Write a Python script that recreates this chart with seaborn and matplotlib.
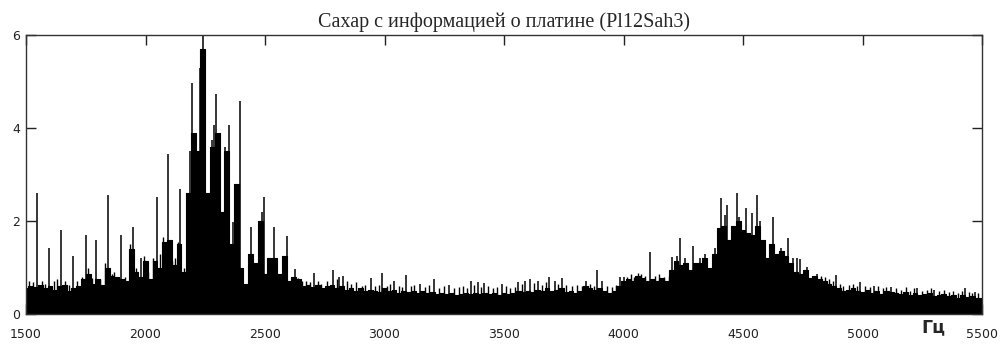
import numpy as np
import pandas as pd
import seaborn as sns
import matplotlib
matplotlib.use("Agg")
import matplotlib.pyplot as plt

# огибающая спектра, шаг 20 Гц (1500 ... 5500)
base_amp = [
    0.55, 0.6, 0.58, 0.62, 0.55, 0.6, 0.52, 0.6, 0.62, 0.5,
    0.55, 0.6, 0.75, 0.85, 0.65, 0.75, 0.62, 1.0, 0.82, 0.8,
    0.75, 0.7, 1.4, 0.9, 0.8, 1.15, 0.75, 1.15, 1.0, 1.55,
    1.6, 1.05, 1.5, 0.9, 2.6, 3.9, 3.5, 5.7, 2.6, 3.6,
    3.9, 2.2, 3.5, 1.5, 2.8, 1.0, 0.65, 1.3, 1.1, 2.0,
    0.85, 1.2, 1.2, 0.85, 1.25, 0.7, 0.8, 0.75, 0.6, 0.62,
    0.58, 0.62, 0.55, 0.6, 0.62, 0.55, 0.6, 0.52, 0.55, 0.5,
    0.55, 0.5, 0.52, 0.5, 0.48, 0.55, 0.5, 0.52, 0.45, 0.5,
    0.48, 0.5, 0.45, 0.5, 0.45, 0.48, 0.42, 0.45, 0.42, 0.45,
    0.4, 0.42, 0.45, 0.42, 0.45, 0.43, 0.45, 0.42, 0.45, 0.4,
    0.45, 0.42, 0.45, 0.5, 0.48, 0.5, 0.48, 0.52, 0.5, 0.55,
    0.5, 0.52, 0.55, 0.48, 0.5, 0.45, 0.5, 0.6, 0.55, 0.52,
    0.55, 0.5, 0.45, 0.5, 0.6, 0.72, 0.75, 0.72, 0.82, 0.78,
    0.7, 0.75, 0.72, 0.78, 0.7, 0.95, 1.15, 1.05, 1.1, 0.95,
    1.1, 1.1, 1.2, 1.0, 1.3, 1.85, 1.9, 1.6, 1.9, 2.0,
    1.8, 1.75, 1.7, 1.9, 1.6, 1.2, 1.5, 1.3, 1.35, 1.25,
    1.1, 0.9, 0.85, 0.95, 0.78, 0.82, 0.75, 0.72, 0.65, 0.6,
    0.55, 0.5, 0.52, 0.55, 0.5, 0.48, 0.52, 0.45, 0.5, 0.42,
    0.5, 0.48, 0.45, 0.42, 0.48, 0.4, 0.45, 0.4, 0.42, 0.45,
    0.38, 0.4, 0.42, 0.38, 0.4, 0.35, 0.4, 0.36, 0.38, 0.35,
    0.35,
]
base_freq = np.arange(1500, 5501, 20)

# отдельные узкие пики
peak_freq = [
    1547, 1597, 1648, 1698, 1750, 1794, 1844, 1896, 1948, 1980,
    2048, 2093, 2144, 2186, 2196, 2228, 2236, 2242, 2277, 2286,
    2297, 2332, 2349, 2367, 2381, 2394, 2441, 2486, 2494, 2539,
    2594, 2625, 2705, 2786, 2810, 2828, 2942, 2990, 3040, 3092,
    3150, 3207, 3270, 3361, 3392, 3418, 3490, 3560, 3588, 3609,
    3641, 3690, 3712, 3743, 3843, 3888, 3912, 3986, 4000, 4111,
    4205, 4222, 4236, 4256, 4289, 4320, 4340, 4383, 4410, 4424,
    4434, 4455, 4473, 4485, 4512, 4537, 4557, 4570, 4590, 4627,
    4660, 4690, 4710, 4725, 4739, 4767, 4809, 4888, 4990, 5050,
    5120, 5230, 5300, 5429, 5470,
]
peak_amp = [
    2.6, 1.43, 1.8, 1.25, 1.7, 1.6, 2.55, 1.7, 1.88, 1.2,
    2.52, 3.45, 2.68, 3.5, 4.97, 5.3, 5.6, 5.98, 3.75, 4.07,
    4.74, 3.6, 4.07, 1.98, 2.8, 4.57, 1.88, 2.2, 2.52, 1.88,
    1.67, 0.97, 0.88, 0.95, 0.8, 0.82, 0.77, 0.88, 0.7, 0.84,
    0.65, 0.75, 0.62, 0.71, 0.68, 0.66, 0.64, 0.68, 0.72, 0.75,
    0.7, 0.8, 0.72, 0.78, 0.72, 0.95, 0.72, 0.79, 0.8, 1.34,
    1.23, 1.25, 1.63, 1.2, 1.46, 1.2, 1.3, 1.41, 2.49, 2.13,
    2.34, 1.84, 2.61, 2.09, 2.29, 2.18, 2.56, 1.99, 1.6, 2.09,
    1.41, 1.63, 1.2, 1.2, 1.18, 1.02, 0.87, 0.84, 0.68, 0.6,
    0.58, 0.55, 0.52, 0.55, 0.48,
]

# мелкая «шерсть» над фоном
ripple_freq = [
    1512, 1530, 1565, 1580, 1618, 1630, 1665, 1680, 1715, 1735,
    1760, 1775, 1810, 1830, 1858, 1870, 1915, 1935, 1960, 1995,
    2010, 2030, 2060, 2075, 2110, 2125, 2135, 2160,
    2640, 2655, 2670, 2690, 2720, 2735, 2760, 2800, 2845, 2860,
    2880, 2905, 2920, 2960, 2975, 3010, 3025, 3060, 3075, 3110,
    3125, 3170, 3185, 3230, 3250, 3290, 3310, 3330, 3345, 3375,
    3405, 3435, 3455, 3470, 3510, 3525, 3545, 3575, 3625, 3660,
    3675, 3725, 3760, 3785, 3805, 3825, 3860, 3875, 3930, 3950,
    3970, 4015, 4030, 4045, 4060, 4075, 4090, 4130, 4150, 4170,
    4190, 4825, 4845, 4860, 4875, 4905, 4920, 4945, 4960, 4975,
    5010, 5030, 5065, 5085, 5100, 5140, 5160, 5180, 5200, 5215,
    5250, 5270, 5285, 5320, 5340, 5360, 5380, 5400, 5415, 5445,
    5460, 5485,
]
ripple_amp = [
    0.7, 0.68, 0.72, 0.65, 0.7, 0.75, 0.72, 0.62, 0.7, 0.8,
    1.0, 0.78, 0.75, 1.1, 0.85, 0.9, 0.8, 1.5, 1.0, 1.25,
    0.9, 1.2, 1.3, 1.65, 1.15, 1.2, 1.55, 1.0,
    0.78, 0.7, 0.72, 0.68, 0.7, 0.65, 0.72, 0.75, 0.7, 0.65,
    0.68, 0.6, 0.62, 0.6, 0.62, 0.6, 0.65, 0.6, 0.58, 0.6,
    0.62, 0.58, 0.62, 0.55, 0.6, 0.55, 0.58, 0.6, 0.55, 0.62,
    0.58, 0.6, 0.55, 0.58, 0.6, 0.55, 0.58, 0.65, 0.66, 0.62,
    0.68, 0.65, 0.62, 0.6, 0.62, 0.6, 0.65, 0.6, 0.6, 0.58,
    0.62, 0.8, 0.85, 0.8, 0.88, 0.85, 0.82, 0.82, 0.85, 0.8,
    0.82, 0.82, 0.8, 0.75, 0.72, 0.65, 0.6, 0.62, 0.65, 0.6,
    0.6, 0.58, 0.6, 0.55, 0.58, 0.55, 0.52, 0.58, 0.5, 0.55,
    0.5, 0.52, 0.55, 0.5, 0.52, 0.48, 0.5, 0.45, 0.5, 0.47,
    0.45, 0.46,
]

x_ticks = [1500, 2000, 2500, 3000, 3500, 4000, 4500, 5000, 5500]
y_ticks = [0, 2, 4, 6]

df = pd.DataFrame({"freq": base_freq, "amp": base_amp})

sns.set_style("white")
plt.rcParams["font.family"] = ["DejaVu Sans"]

fig = plt.figure(figsize=(10.03, 3.45), dpi=100)
ax = fig.add_axes([26 / 1003, 31 / 345, 956 / 1003, 279 / 345])

sns.lineplot(data=df, x="freq", y="amp", drawstyle="steps-mid",
             color="black", linewidth=0.8, ax=ax)
ax.fill_between(df["freq"], 0, df["amp"], step="mid", color="black", linewidth=0)
ax.vlines(ripple_freq, 0, ripple_amp, color="black", linewidth=1.0)
ax.vlines(peak_freq, 0, peak_amp, color="black", linewidth=1.1)

ax.set_xlim(1500, 5500)
ax.set_ylim(0, 6)
ax.set_xticks(x_ticks)
ax.set_yticks(y_ticks)
ax.set_xlabel("")
ax.set_ylabel("")
ax.tick_params(direction="in", length=7, width=1, top=True, right=True,
               bottom=True, left=True, labelsize=9, colors="#222222",
               labelcolor="#222222")
ax.tick_params(axis="x", pad=10)
ax.tick_params(axis="y", pad=4)
for s in ax.spines.values():
    s.set_color("#333333")
    s.set_linewidth(1)

ax.set_title("Сахар с информацией о платине (Pl12Sah3)",
             family="Liberation Serif", fontsize=14.5, pad=6)
ax.text(0.949, -0.015, "Гц", transform=ax.transAxes, fontsize=12.5,
        fontweight="bold", ha="center", va="top")

fig.savefig("out.png", dpi=100)
